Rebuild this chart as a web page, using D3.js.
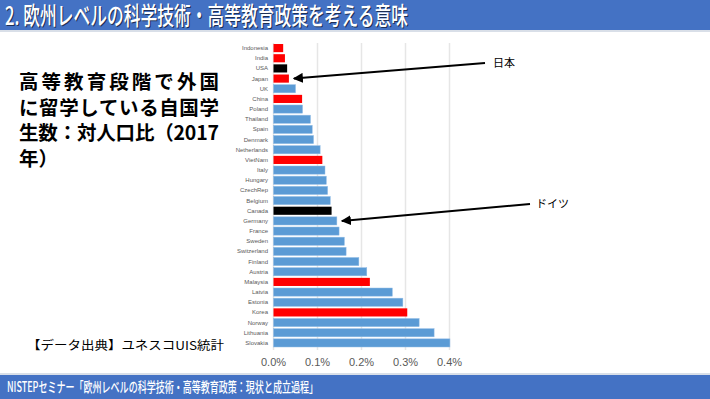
<!DOCTYPE html>
<html>
<head>
<meta charset="utf-8">
<script src="https://cdn.jsdelivr.net/npm/d3@7"></script>
<style>
  html, body { margin: 0; padding: 0; background: #fff; }
  svg { display: block; font-family: "Noto Sans CJK JP", "Noto Sans", sans-serif; }
</style>
</head>
<body>
<div id="chart"></div>
<script>
const countries = ['Indonesia', 'India', 'USA', 'Japan', 'UK', 'China', 'Poland', 'Thailand', 'Spain', 'Denmark',
    'Netherlands', 'VietNam', 'Italy', 'Hungary', 'CzechRep', 'Belgium', 'Canada', 'Germany', 'France', 'Sweden',
    'Switzerland', 'Finland', 'Austria', 'Malaysia', 'Latvia', 'Estonia', 'Korea', 'Norway', 'Lithuania', 'Slovakia'];
// share of population studying abroad, in %
const values = [0.022, 0.026, 0.031, 0.035, 0.050, 0.065, 0.066, 0.084, 0.088, 0.091,
    0.106, 0.111, 0.117, 0.120, 0.123, 0.129, 0.132, 0.144, 0.149, 0.161,
    0.165, 0.194, 0.212, 0.219, 0.270, 0.294, 0.304, 0.331, 0.365, 0.401];
const asian = ['Indonesia', 'India', 'Japan', 'China', 'VietNam', 'Malaysia', 'Korea'];
const black = ['USA', 'Canada'];
const ticks = [0, 0.1, 0.2, 0.3, 0.4];
const notes = [{label: '日本', country: 'Japan'}, {label: 'ドイツ', country: 'Germany'}];
const titleText = '2. 欧州レベルの科学技術・高等教育政策を考える意味';
const footerText = 'NISTEPセミナー「欧州レベルの科学技術・高等教育政策：現状と成立過程」';
const sideLines = ['高等教育段階で外国', 'に留学している自国学', '生数：対人口比（2017', '年）'];
const sourceText = '【データ出典】ユネスコUIS統計';

const W = 710, H = 399;
const svg = d3.select('#chart').append('svg').attr('width', W).attr('height', H);

const defs = svg.append('defs');
defs.append('marker')
    .attr('id', 'arr')
    .attr('viewBox', '0 0 10 10')
    .attr('refX', 9).attr('refY', 5)
    .attr('markerWidth', 5).attr('markerHeight', 5)
    .attr('orient', 'auto-start-reverse')
    .append('path').attr('d', 'M0,0 L10,5 L0,10 z').attr('fill', '#000');

// header bar
svg.append('rect').attr('x', 0).attr('y', 0).attr('width', W).attr('height', 30).attr('fill', '#4472C4');
svg.append('rect').attr('x', 0).attr('y', 30).attr('width', W).attr('height', 2).attr('fill', '#d9dfe8');
svg.append('text').attr('x', 6).attr('y', 26).attr('fill', '#1d2f55')
    .attr('font-size', 25).attr('font-weight', 500)
    .attr('textLength', 403).attr('lengthAdjust', 'spacingAndGlyphs')
    .text(titleText);
svg.append('text').attr('x', 5).attr('y', 25).attr('fill', '#fff')
    .attr('font-size', 25).attr('font-weight', 500)
    .attr('textLength', 403).attr('lengthAdjust', 'spacingAndGlyphs')
    .text(titleText);

// footer bar
svg.append('rect').attr('x', 0).attr('y', 373).attr('width', W).attr('height', 2).attr('fill', '#d9dfe8');
svg.append('rect').attr('x', 0).attr('y', 375).attr('width', W).attr('height', 24).attr('fill', '#4472C4');
svg.append('text').attr('x', 7).attr('y', 392).attr('fill', '#fff')
    .attr('font-size', 14).attr('font-weight', 500)
    .attr('textLength', 311).attr('lengthAdjust', 'spacingAndGlyphs')
    .text(footerText);

// side heading
svg.append('g').selectAll('text')
    .data(sideLines)
    .enter()
    .append('text')
    .attr('x', 19)
    .attr('y', (d, i) => 89 + i * 25.5)
    .attr('font-size', 19.5)
    .attr('font-weight', 'bold')
    .attr('fill', '#000')
    .attr('textLength', (d, i) => i < 3 ? 200 : null)
    .attr('lengthAdjust', 'spacing')
    .text(d => d);

svg.append('text').attr('x', 27).attr('y', 350).attr('font-size', 12).attr('fill', '#000')
    .attr('textLength', 197).attr('lengthAdjust', 'spacingAndGlyphs')
    .text(sourceText);

// chart
const x = d3.scaleLinear().domain([0, 0.4]).range([273.5, 449.5]);
const y = d3.scaleBand().domain(countries).range([43, 348]).paddingInner(0.2).paddingOuter(0.1);

svg.append('g').selectAll('line')
    .data(ticks)
    .enter()
    .append('line')
    .attr('x1', d => x(d)).attr('x2', d => x(d))
    .attr('y1', 43).attr('y2', 350)
    .attr('stroke', '#e6e6e6').attr('stroke-width', 1.5);

svg.append('g').selectAll('rect')
    .data(countries)
    .enter()
    .append('rect')
    .attr('x', x(0))
    .attr('y', d => y(d))
    .attr('width', (d, i) => x(values[i]) - x(0))
    .attr('height', y.bandwidth())
    .attr('fill', d => asian.includes(d) ? '#FF0000' : black.includes(d) ? '#000000' : '#5B9BD5')
    .attr('stroke', d => asian.includes(d) || black.includes(d) ? 'none' : '#8fbbe6')
    .attr('stroke-width', 0.5);

svg.append('g').selectAll('text')
    .data(countries)
    .enter()
    .append('text')
    .attr('x', 268)
    .attr('y', d => y(d) + y.bandwidth() / 2 + 2)
    .attr('text-anchor', 'end')
    .attr('font-size', 6)
    .attr('font-family', 'Liberation Sans, Arial, sans-serif')
    .attr('fill', '#595959')
    .text(d => d);

svg.append('g').selectAll('text')
    .data(ticks)
    .enter()
    .append('text')
    .attr('x', d => x(d))
    .attr('y', 366)
    .attr('text-anchor', 'middle')
    .attr('font-size', 11)
    .attr('font-family', 'Liberation Sans, Arial, sans-serif')
    .attr('fill', '#595959')
    .text(d => d3.format('.1f')(d) + '%');

// annotations
const notePos = {'Japan': [485, 63, 493], 'Germany': [530, 204, 536]};
notes.forEach(n => {
    const i = countries.indexOf(n.country);
    const p = notePos[n.country];
    svg.append('line')
        .attr('x1', p[0]).attr('y1', p[1])
        .attr('x2', x(values[i]) + 5).attr('y2', y(n.country) + y.bandwidth() / 2)
        .attr('stroke', '#000').attr('stroke-width', 2)
        .attr('marker-end', 'url(#arr)');
    svg.append('text')
        .attr('x', p[2]).attr('y', p[1] + 4)
        .attr('font-size', 11)
        .attr('fill', '#000')
        .text(n.label);
});
</script>
</body>
</html>
